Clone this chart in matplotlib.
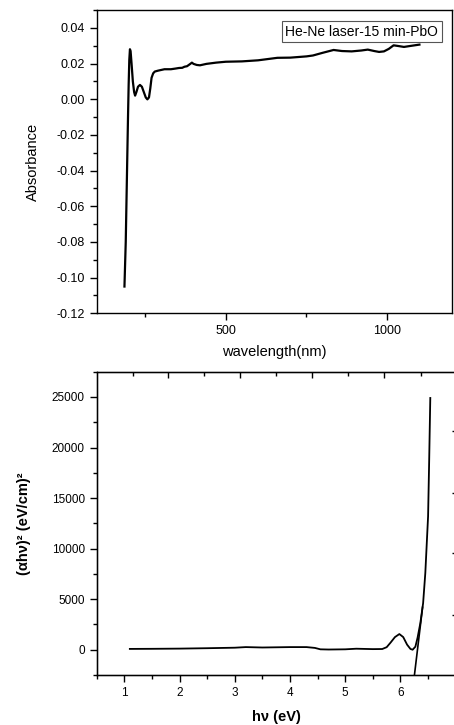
import matplotlib
matplotlib.use("Agg")
from matplotlib import pyplot as plt
from matplotlib.ticker import MultipleLocator, FixedLocator, NullFormatter

plt.rcParams['font.family'] = ['Liberation Sans', 'DejaVu Sans']

# top panel: absorbance spectrum
wavelength = [186, 190, 194, 197, 199, 201, 203, 205, 208, 212, 216, 219, 223, 228, 234,
              240, 246, 252, 257, 262, 266, 270, 275, 280, 290, 310, 330, 345, 355, 365,
              372, 380, 390, 395, 400, 410, 420, 440, 470, 500, 550, 600, 630, 660, 700,
              750, 770, 800, 834, 860, 890, 920, 940, 960, 975, 990, 1005, 1020, 1035,
              1052, 1070, 1085, 1100]
absorbance = [-0.105, -0.08, -0.04, -0.01, 0.008, 0.022, 0.028, 0.027, 0.020, 0.010, 0.004,
              0.002, 0.004, 0.007, 0.008, 0.007, 0.004, 0.001, -0.0001, 0.001, 0.006, 0.012,
              0.0145, 0.0155, 0.016, 0.0168, 0.0168, 0.0172, 0.0175, 0.0176, 0.0182, 0.0185,
              0.0198, 0.0205, 0.0198, 0.0192, 0.019, 0.0198, 0.0205, 0.021, 0.0212, 0.0218,
              0.0225, 0.0232, 0.0233, 0.024, 0.0245, 0.026, 0.0276, 0.027, 0.0268, 0.0273,
              0.0278, 0.027, 0.0265, 0.0268, 0.0282, 0.0302, 0.0298, 0.0293, 0.0298, 0.0302,
              0.0306]
legend_label = "He-Ne laser-15 min-PbO"

# bottom panel: Tauc plot
energy = [1.1, 1.5, 2.0, 2.5, 3.0, 3.2, 3.5, 4.0, 4.3, 4.45, 4.55, 4.7, 5.0, 5.2, 5.5,
          5.67, 5.75, 5.82, 5.9, 5.98, 6.05, 6.12, 6.18, 6.22, 6.27, 6.31, 6.36, 6.41,
          6.45, 6.50, 6.52, 6.54]
tauc = [80, 90, 110, 150, 200, 260, 220, 260, 260, 180, 40, 20, 40, 100, 60,
        70, 250, 700, 1250, 1550, 1250, 500, 80, 0, 300, 1200, 2640, 4600,
        7600, 13200, 18800, 24900]
fit_x = [6.253, 6.40]
fit_y = [-2500, 4200]

# ticks of the overlaid frame (top / right edge of lower panel)
top_major = [1.79, 3.10, 4.40, 5.70]
top_minor = [1.16, 2.44, 3.74, 5.05, 6.37]
right_ticks = [3460, 9560, 15500, 21600]

W, H = 454, 725
fig = plt.figure(figsize=(W / 100, H / 100), dpi=100)

# ---- top
ax1 = fig.add_axes([96.7 / W, 1 - 313.3 / H, 355 / W, 303.3 / H])
ax1.plot(wavelength, absorbance, color='black', lw=1.6)
ax1.set_xlim(100, 1200)
ax1.set_ylim(-0.12, 0.05)
ax1.xaxis.set_major_locator(FixedLocator([500, 1000]))
ax1.xaxis.set_minor_locator(FixedLocator([250, 750]))
ax1.yaxis.set_major_locator(FixedLocator([-0.12, -0.10, -0.08, -0.06, -0.04, -0.02, 0.0, 0.02, 0.04]))
ax1.yaxis.set_minor_locator(MultipleLocator(0.01))
ax1.yaxis.set_major_formatter(plt.FuncFormatter(lambda v, p: f"{v:.2f}"))
ax1.tick_params(which='major', direction='out', length=5, width=1, labelsize=9)
ax1.tick_params(which='minor', direction='out', length=3, width=1)
ax1.set_xlabel("wavelength(nm)", fontsize=10.5, labelpad=6)
ax1.set_ylabel("Absorbance", fontsize=10.5, labelpad=12)
for s in ax1.spines.values():
    s.set_linewidth(1)
ax1.text(0.962, 0.929, legend_label, transform=ax1.transAxes, ha='right', va='center',
         fontsize=10,
         bbox=dict(boxstyle='square,pad=0.25', fc='white', ec='#555555', lw=0.8))

# ---- bottom
ax2 = fig.add_axes([96.7 / W, 1 - 675 / H, 359 / W, 303.3 / H])
ax2.plot(energy, tauc, color='black', lw=1.3)
ax2.plot(fit_x, fit_y, color='black', lw=1.2)
ax2.set_xlim(0.5, 7.0)
ax2.set_ylim(-2500, 27500)
ax2.xaxis.set_major_locator(FixedLocator([1, 2, 3, 4, 5, 6]))
ax2.xaxis.set_minor_locator(MultipleLocator(0.5))
ax2.yaxis.set_major_locator(FixedLocator([0, 5000, 10000, 15000, 20000, 25000]))
ax2.yaxis.set_minor_locator(MultipleLocator(2500))
ax2.tick_params(which='major', direction='out', length=5, width=1, labelsize=8.5)
ax2.tick_params(which='minor', direction='out', length=3, width=1)
ax2.set_xlabel("hν (eV)", fontsize=10.5, fontweight='bold', labelpad=8)
ax2.set_ylabel("(αhν)² (eV/cm)²", fontsize=10.5, fontweight='bold', labelpad=15)
for s in ax2.spines.values():
    s.set_linewidth(1)

top = ax2.twiny()
top.set_xlim(ax2.get_xlim())
top.xaxis.set_major_locator(FixedLocator(top_major))
top.xaxis.set_minor_locator(FixedLocator(top_minor))
top.xaxis.set_major_formatter(NullFormatter())
top.tick_params(which='major', direction='in', length=4, width=1)
top.tick_params(which='minor', direction='in', length=3, width=1)
right = ax2.twinx()
right.set_ylim(ax2.get_ylim())
right.yaxis.set_major_locator(FixedLocator(right_ticks))
right.yaxis.set_major_formatter(NullFormatter())
right.tick_params(which='major', direction='in', length=3, width=1)

fig.savefig("out.png", dpi=100)
